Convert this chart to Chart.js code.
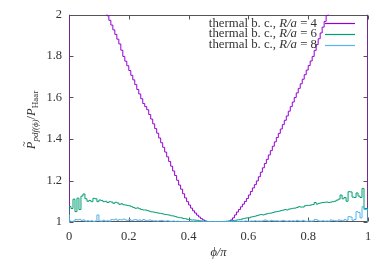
<!DOCTYPE html>
<html>
<head>
<meta charset="utf-8">
<script src="https://cdn.jsdelivr.net/npm/chart.js@4.4.1/dist/chart.umd.min.js"></script>
<style>
  html, body { margin: 0; padding: 0; background: #fff; }
</style>
</head>
<body>
<canvas id="myChart" width="390" height="260"></canvas>
<script>
const radii = [4, 6, 8];
const colors = ['#9400d3', '#009e73', '#56b4e9'];
const xTicks = [0, 0.2, 0.4, 0.6, 0.8, 1];
const yTicks = [1, 1.2, 1.4, 1.6, 1.8, 2];

// P_pdf / P_Haar in 150 equal bins of phi/pi (0..1)
const ratioR4 = [
  3.3, 3.0, 2.85, 2.72, 2.62, 2.54, 2.47, 2.41, 2.35, 2.3,
  2.25, 2.2, 2.17, 2.15, 2.13, 2.107, 2.085, 2.062, 2.04, 2.017,
  1.994, 1.972, 1.949, 1.926, 1.904, 1.881, 1.858, 1.828, 1.798, 1.775,
  1.753, 1.73, 1.707, 1.685, 1.662, 1.639, 1.617, 1.594, 1.571, 1.556,
  1.541, 1.518, 1.496, 1.473, 1.45, 1.428, 1.405, 1.382, 1.36, 1.337,
  1.314, 1.292, 1.269, 1.246, 1.224, 1.201, 1.178, 1.158, 1.136, 1.116,
  1.098, 1.082, 1.067, 1.054, 1.043, 1.033, 1.024, 1.016, 1.01, 1.005,
  1.002, 1.0, 1.0, 1.0, 1.0, 1.0, 1.0, 1.0, 1.0, 1.0,
  1.001, 1.004, 1.01, 1.02, 1.034, 1.048, 1.06, 1.073, 1.086, 1.099,
  1.113, 1.13, 1.147, 1.164, 1.18, 1.198, 1.218, 1.24, 1.261, 1.282,
  1.302, 1.323, 1.344, 1.365, 1.386, 1.407, 1.427, 1.448, 1.469, 1.49,
  1.511, 1.534, 1.556, 1.578, 1.6, 1.622, 1.644, 1.666, 1.688, 1.71,
  1.732, 1.754, 1.776, 1.798, 1.827, 1.855, 1.883, 1.911, 1.939, 1.967,
  1.995, 2.03, 2.06, 2.09, 2.12, 2.15, 2.18, 2.21, 2.24, 2.28,
  2.32, 2.36, 2.4, 2.45, 2.5, 2.56, 2.63, 2.72, 2.85, 3.1
];
const ratioR6 = [
  1.07, 1.075, 1.065, 1.11, 1.05, 1.115, 1.06, 1.125, 1.135, 1.112,
  1.1, 1.104, 1.098, 1.114, 1.112, 1.098, 1.106, 1.104, 1.098, 1.1,
  1.094, 1.098, 1.096, 1.09, 1.095, 1.092, 1.085, 1.088, 1.083, 1.082,
  1.08, 1.078, 1.074, 1.07, 1.066, 1.068, 1.064, 1.06, 1.058, 1.058,
  1.055, 1.052, 1.049, 1.048, 1.046, 1.044, 1.042, 1.041, 1.038, 1.036,
  1.035, 1.033, 1.03, 1.029, 1.026, 1.023, 1.021, 1.02, 1.017, 1.016,
  1.013, 1.012, 1.01, 1.01, 1.009, 1.008, 1.006, 1.005, 1.004, 1.004,
  1.003, 1.002, 1.002, 1.001, 1.001, 1.001, 1.002, 1.002, 1.003, 1.003,
  1.004, 1.005, 1.006, 1.007, 1.008, 1.01, 1.011, 1.013, 1.016, 1.018,
  1.02, 1.02, 1.024, 1.026, 1.028, 1.031, 1.034, 1.036, 1.034, 1.037,
  1.04, 1.042, 1.043, 1.046, 1.049, 1.05, 1.052, 1.055, 1.057, 1.06,
  1.058, 1.062, 1.064, 1.066, 1.067, 1.07, 1.074, 1.072, 1.072, 1.078,
  1.08, 1.08, 1.082, 1.084, 1.094, 1.086, 1.09, 1.092, 1.094, 1.095,
  1.096, 1.094, 1.096, 1.098, 1.1, 1.105, 1.11, 1.13, 1.112, 1.118,
  1.1, 1.146, 1.145, 1.12, 1.118, 1.14, 1.125, 1.118, 1.162, 1.065
];
const ratioR8 = [
  1.035, 1.005, 1.003, 1.004, 1.012, 1.01, 1.013, 1.008, 1.01, 1.004,
  1.006, 1.004, 1.006, 1.003, 1.005, 1.034, 1.005, 1.004, 1.008, 1.004,
  1.006, 1.004, 1.012, 1.01, 1.014, 1.008, 1.012, 1.01, 1.014, 1.01,
  1.008, 1.012, 1.006, 1.01, 1.012, 1.008, 1.01, 1.006, 1.012, 1.008,
  1.006, 1.01, 1.008, 1.005, 1.006, 1.004, 1.006, 1.008, 1.005, 1.004,
  1.006, 1.004, 1.003, 1.005, 1.003, 1.004, 1.003, 1.002, 1.003, 1.002,
  1.002, 1.002, 1.001, 1.002, 1.001, 1.002, 1.001, 1.001, 1.002, 1.001,
  1.001, 1.002, 1.001, 1.001, 1.002, 1.001, 1.002, 1.001, 1.002, 1.002,
  1.003, 1.002, 1.003, 1.002, 1.004, 1.003, 1.002, 1.004, 1.003, 1.005,
  1.004, 1.003, 1.005, 1.004, 1.006, 1.004, 1.005, 1.004, 1.006, 1.01,
  1.006, 1.004, 1.008, 1.006, 1.005, 1.006, 1.004, 1.005, 1.008, 1.005,
  1.004, 1.006, 1.004, 1.006, 1.004, 1.008, 1.005, 1.004, 1.008, 1.004,
  1.003, 1.006, 1.004, 1.005, 1.012, 1.01, 1.005, 1.004, 1.006, 1.004,
  1.005, 1.004, 1.01, 1.008, 1.006, 1.005, 1.01, 1.008, 1.006, 1.012,
  1.008, 1.026, 1.024, 1.008, 1.012, 1.05, 1.046, 1.02, 1.074, 1.06
];

const serif = '"Liberation Serif", "DejaVu Serif", serif';
const textColor = '#333';

// histogram steps over 0..1, dropping to the axis floor at both ends
function histSteps(vals) {
  const w = 1 / vals.length;
  const pts = [{x: 0, y: yTicks[0]}];
  vals.forEach((v, i) => pts.push({x: i * w, y: v}));
  pts.push({x: 1, y: vals[vals.length - 1]});
  pts.push({x: 1, y: yTicks[0]});
  return pts;
}

const series = [ratioR4, ratioR6, ratioR8];

const data = {
  datasets: series.map((vals, i) => ({
    label: 'thermal b. c., R/a = ' + radii[i],
    data: histSteps(vals),
    borderColor: colors[i],
    borderWidth: 1,
    pointRadius: 0,
    stepped: 'after',
    fill: false,
    order: 3 - i
  }))
};

function drawPieces(ctx, pieces, x, y) {
  pieces.forEach(p => {
    ctx.font = p.font;
    ctx.fillText(p.t, x, y + (p.dy || 0));
    x += ctx.measureText(p.t).width;
  });
}
function piecesWidth(ctx, pieces) {
  let w = 0;
  pieces.forEach(p => { ctx.font = p.font; w += ctx.measureText(p.t).width; });
  return w;
}

const frame = {
  id: 'frame',
  beforeDatasetsDraw(chart) {
    const {ctx, chartArea: a, scales} = chart;
    const l = Math.round(a.left) + 0.5, r = Math.round(a.right) - 0.5;
    const t = Math.round(a.top) + 0.5, b = Math.round(a.bottom) - 0.5;
    ctx.save();
    ctx.strokeStyle = '#555';
    ctx.lineWidth = 1;
    ctx.strokeRect(l, t, r - l, b - t);
    ctx.beginPath();
    xTicks.forEach(v => {
      const px = Math.round(scales.x.getPixelForValue(v)) + 0.5;
      ctx.moveTo(px, b); ctx.lineTo(px, b - 4);
      ctx.moveTo(px, t); ctx.lineTo(px, t + 4);
    });
    yTicks.forEach(v => {
      const py = Math.round(scales.y.getPixelForValue(v)) + 0.5;
      ctx.moveTo(l, py); ctx.lineTo(l + 4, py);
      ctx.moveTo(r, py); ctx.lineTo(r - 4, py);
    });
    ctx.stroke();
    ctx.restore();
  },
  afterDraw(chart) {
    const {ctx, chartArea: a} = chart;
    ctx.save();
    ctx.fillStyle = textColor;
    ctx.textBaseline = 'alphabetic';

    // legend, text right-justified, sample line on the right
    chart.data.datasets.forEach((ds, i) => {
      const base = 26.5 + i * 10.8;
      const pieces = [
        {t: 'thermal b. c., ', font: '12.8px ' + serif},
        {t: 'R/a', font: 'italic 12.8px ' + serif},
        {t: ' = ' + radii[i], font: '12.8px ' + serif}
      ];
      const w = piecesWidth(ctx, pieces);
      drawPieces(ctx, pieces, 317 - w, base);
      ctx.strokeStyle = ds.borderColor;
      ctx.lineWidth = 1.2;
      ctx.beginPath();
      ctx.moveTo(325, Math.round(base - 3.5) + 0.5);
      ctx.lineTo(355, Math.round(base - 3.5) + 0.5);
      ctx.stroke();
    });

    // x axis title
    ctx.font = 'italic 12.5px ' + serif;
    ctx.textAlign = 'center';
    ctx.fillText('\u03d5/\u03c0', (a.left + a.right) / 2, 256);
    ctx.textAlign = 'left';

    // y axis title, rotated
    ctx.translate(35, 120);
    ctx.rotate(-Math.PI / 2);
    const yp = [
      {t: 'P', font: 'italic 12.5px ' + serif},
      {t: 'pdf(\u03d5)', font: 'italic 9px ' + serif, dy: 3},
      {t: '/', font: '12.5px ' + serif},
      {t: 'P', font: 'italic 12.5px ' + serif},
      {t: 'Haar', font: '9px ' + serif, dy: 3}
    ];
    const yw = piecesWidth(ctx, yp);
    const x0 = -yw / 2;
    drawPieces(ctx, yp, x0, 0);
    ctx.font = '10px ' + serif;
    ctx.fillText('~', x0 + 2.5, -8);
    ctx.restore();
  }
};

const config = {
  type: 'line',
  data: data,
  options: {
    responsive: false,
    animation: false,
    devicePixelRatio: 1,
    layout: { padding: { top: 14, right: 22, left: 0, bottom: 0 } },
    plugins: { legend: { display: false }, tooltip: { enabled: false } },
    scales: {
      x: {
        type: 'linear', min: 0, max: 1,
        afterBuildTicks: s => { s.ticks = xTicks.map(v => ({value: v})); },
        afterFit: s => { s.height = 38; },
        grid: { display: false, drawTicks: false },
        border: { display: false },
        ticks: { callback: v => String(v), color: textColor, padding: 7, maxRotation: 0, autoSkip: false,
                 font: { family: serif, size: 12.5 } }
      },
      y: {
        type: 'linear', min: 1, max: 2,
        afterBuildTicks: s => { s.ticks = yTicks.map(v => ({value: v})); },
        afterFit: s => { s.width = 69; },
        grid: { display: false, drawTicks: false },
        border: { display: false },
        ticks: { callback: v => String(v), color: textColor, padding: 7, autoSkip: false,
                 font: { family: serif, size: 12.5 } }
      }
    }
  },
  plugins: [frame]
};

const myChart = new Chart(document.getElementById('myChart'), config);
</script>
</body>
</html>
